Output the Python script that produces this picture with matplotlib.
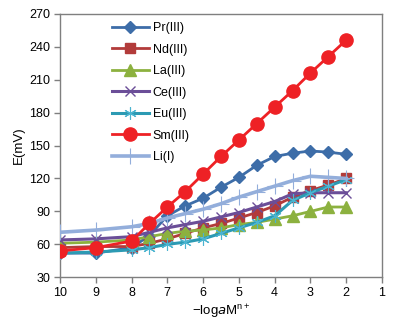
import matplotlib
matplotlib.use("Agg")
import matplotlib.pyplot as plt

plt.rcParams['font.family'] = ['Liberation Sans', 'DejaVu Sans']

# -log a(M^n+) values where the electrode potential was measured
log_activity = [10, 9, 8, 7.5, 7, 6.5, 6, 5.5, 5, 4.5, 4, 3.5, 3, 2.5, 2]

# electrode potential E (mV) for each ion
pr_iii = [52, 52, 57, 68, 86, 95, 102, 112, 121, 132, 140, 143, 145, 144, 142]
nd_iii = [57, 58, 58, 61, 65, 70, 75, 79, 84, 89, 95, 103, 109, 114, 120]
la_iii = [61, 62, 64, 67, 70, 72, 73, 75, 78, 80, 83, 86, 90, 94, 94]
ce_iii = [64, 65, 67, 71, 75, 78, 81, 85, 89, 94, 99, 106, 107, 107, 107]
eu_iii = [52, 53, 55, 57, 60, 62, 65, 70, 75, 80, 86, 100, 107, 113, 119]
sm_iii = [54, 57, 63, 79, 94, 108, 124, 140, 155, 170, 185, 200, 216, 231, 246]
li_i = [71, 73, 76, 79, 84, 88, 92, 97, 103, 108, 113, 118, 122, 121, 120]

x_ticks = [10, 9, 8, 7, 6, 5, 4, 3, 2, 1]
y_ticks = [30, 60, 90, 120, 150, 180, 210, 240, 270]

fig = plt.figure(figsize=(4.0, 3.27), dpi=100)
ax = fig.add_axes([0.15, 0.152, 0.805, 0.806])

series = [
    ("Pr(III)", pr_iii, dict(color="#3D6DA8", marker="D", ms=6.5, lw=2.0)),
    ("Nd(III)", nd_iii, dict(color="#B23B3A", marker="s", ms=7.5, lw=2.0)),
    ("La(III)", la_iii, dict(color="#8CB13F", marker="^", ms=8, lw=2.0)),
    ("Ce(III)", ce_iii, dict(color="#6B4E98", marker="x", ms=7, mew=1.0, lw=2.2)),
    ("Eu(III)", eu_iii, dict(color="#2C9AB3", marker=(6, 2, 0), ms=9, mew=0.8,
                             mec="#4BB4D0", lw=2.2)),
    ("Li(I)", li_i, dict(color="#93AEDB", marker="+", ms=11, mew=0.8, lw=2.6)),
    ("Sm(III)", sm_iii, dict(color="#EE2125", marker="o", ms=9.5, lw=2.0)),
]

handles = {}
for z, (name, vals, style) in enumerate(series):
    line, = ax.plot(log_activity, vals, label=name, zorder=3 + z, **style)
    handles[name] = line

order = ["Pr(III)", "Nd(III)", "La(III)", "Ce(III)", "Eu(III)", "Sm(III)", "Li(I)"]
ax.legend([handles[n] for n in order], order, loc="upper left",
          bbox_to_anchor=(0.125, 1.01), frameon=False, fontsize=9,
          handlelength=3.0, labelspacing=0.76, handletextpad=0.3)

ax.set_xlim(10, 1)
ax.set_ylim(30, 270)
ax.set_xticks(x_ticks)
ax.set_yticks(y_ticks)
ax.tick_params(axis="both", labelsize=9, length=4, width=1, color="#7F7F7F",
               direction="out", pad=3)
for sp in ax.spines.values():
    sp.set_color("#7F7F7F")
    sp.set_linewidth(1.0)

ax.set_xlabel(r"$\mathregular{-log}a\mathregular{M^{n+}}$", fontsize=9.5, labelpad=3)
ax.set_ylabel("E(mV)", fontsize=9.5, labelpad=3)

fig.savefig("out.png", dpi=100)
